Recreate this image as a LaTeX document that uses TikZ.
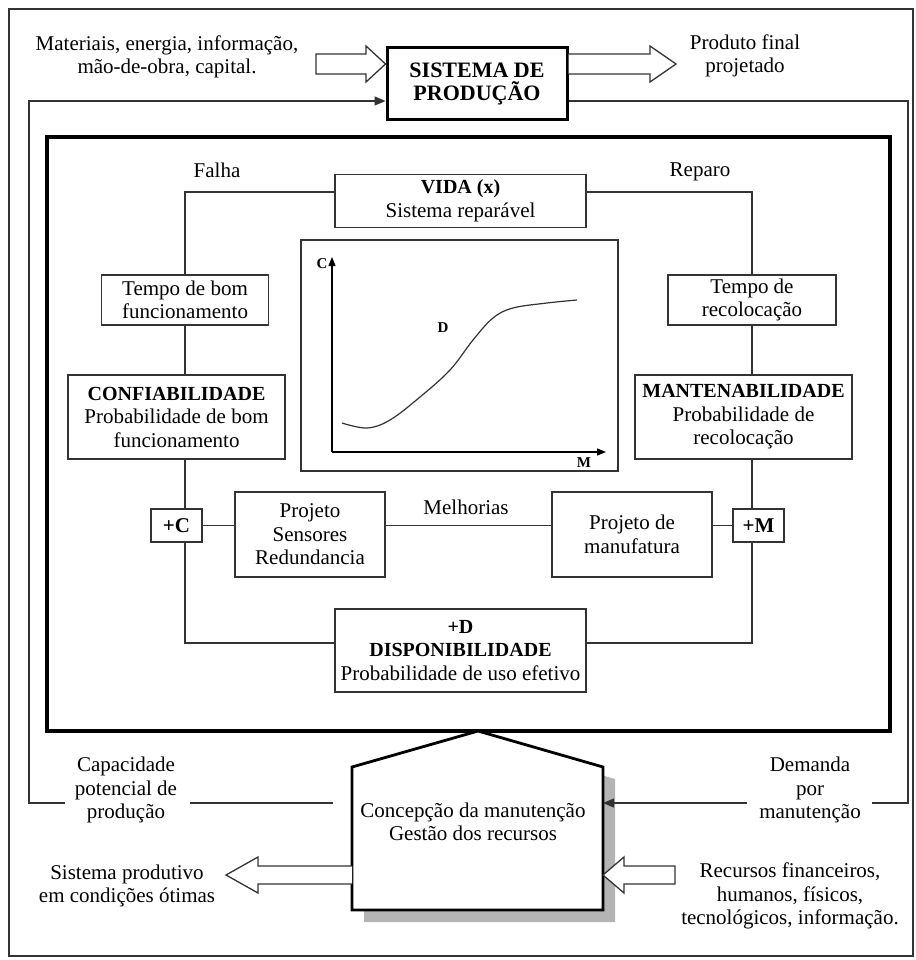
\documentclass[tikz,border=0pt]{standalone}
\usepackage{fontspec}
\setmainfont{Liberation Serif}
\usetikzlibrary{arrows.meta,calc}
\definecolor{ink}{HTML}{333333}
\definecolor{shadowgray}{HTML}{B4B4B4}
\begin{document}
\begin{tikzpicture}[x=1pt,y=-1pt,
  every node/.style={font=\fontsize{21}{23.5}\selectfont, align=center, inner sep=0pt},
  box/.style={draw=ink, line width=1.3pt, fill=white, inner sep=0pt},
  heavybox/.style={draw=black, line width=3pt, fill=white, inner sep=0pt},
  link/.style={draw=ink, line width=1.3pt},
  hollow/.style={draw=ink, line width=1.3pt, fill=white, line join=miter},
  feed/.style={draw=ink, line width=1.3pt, -{Triangle[length=11pt,width=9pt]}},
  small/.style={font=\fontsize{15}{16}\selectfont\bfseries}
]
\useasboundingbox (0,0) rectangle (915,960);
\newcommand\hdfont{\fontsize{20}{23.5}\selectfont\bfseries}

% outer frame
\draw[ink, line width=1.3pt] (9,9) rectangle (913,956);

% ---------- production system ----------
\node[heavybox, minimum width=180, minimum height=72] (sys) at (477,84)
  {\fontsize{22}{24}\selectfont\bfseries SISTEMA DE\\\fontsize{22}{24}\selectfont\bfseries PRODUÇÃO};
\node (mat) at (167,57) {Materiais, energia, informação,\\mão-de-obra, capital.};
\node (prod) at (745,56) {Produto final\\projetado};

% hollow input and output arrows
\draw[hollow] (316,54) -- (366,54) -- (366,46) -- (sys.west |- 0,64) -- (366,82) -- (366,74) -- (316,74) -- cycle;
\draw[hollow] (sys.east |- 0,54) -- (650,54) -- (650,46) -- (676,64) -- (650,82) -- (650,74) -- (sys.east |- 0,74);

% ---------- inner analysis frame ----------
\draw[black, line width=3.5pt] (47,137) rectangle (890,731);

% loop corners
\coordinate (tl) at (185,192);
\coordinate (tr) at (752,192);
\coordinate (bl) at (185,643);
\coordinate (br) at (752,643);

\node (fal) at (217,170) {Falha};
\node (rep) at (700,172) {Reparo};

\node[box, minimum width=251, minimum height=53] (vida) at (460.5,201)
  {{\hdfont VIDA (x)}\\Sistema reparável};

\node[box, minimum width=167, minimum height=50] (tb) at (185,300) {Tempo de bom\\funcionamento};
\node[box, minimum width=168, minimum height=50] (tr1) at (752,300) {Tempo de\\recolocação};

\node[box, minimum width=217, minimum height=84] (conf) at (176.5,417)
  {{\hdfont CONFIABILIDADE}\\Probabilidade de bom\\funcionamento};
\node[box, minimum width=217, minimum height=84] (mant) at (743.5,417)
  {{\hdfont MANTENABILIDADE}\\Probabilidade de\\recolocação};

% C-M curve
\node[box, minimum width=317, minimum height=231] (graph) at (459.5,355.5) {};
\coordinate (o) at (332,452);
\draw[black, line width=1.3pt, -{Triangle[length=9pt,width=7pt]}] (o) -- (332,257);
\draw[black, line width=1.3pt, -{Triangle[length=9pt,width=7pt]}] (o) -- (606,452);
\node[small] (lc) at (322,264) {C};
\node[small] (ld) at (443,328) {D};
\node[small] (lm) at (584,463) {M};
\draw[ink, line width=1.2pt] plot[smooth, tension=0.6] coordinates
  {(342,423) (367,428) (390,420) (420,397) (450,370) (473,340) (493,318) (513,308) (547,303) (577,300)};

% improvements row
\node[box, minimum width=51, minimum height=33] (pc) at (176.5,525.5) {\bfseries +C};
\node[box, minimum width=51, minimum height=33] (pm) at (758.5,525.5) {\bfseries +M};
\node[box, minimum width=150, minimum height=85] (ps) at (310,534.5) {Projeto\\Sensores\\Redundancia};
\node[box, minimum width=160, minimum height=85] (pf) at (632,534.5) {Projeto de\\manufatura};
\node (mel) at (466,507) {Melhorias};

\node[box, minimum width=251, minimum height=83] (disp) at (460.5,650.5)
  {{\hdfont +D}\\{\hdfont DISPONIBILIDADE}\\Probabilidade de uso efetivo};

% loop connectors
\draw[link] (vida.west |- tl) -- (tl) -- (tb.north);
\draw[link] (vida.east |- tr) -- (tr) -- (tr1.north);
\draw[link] (tb.south) -- (tb.south |- conf.north);
\draw[link] (tr1.south) -- (tr1.south |- mant.north);
\draw[link] (conf.south -| tl) -- (pc.north -| tl);
\draw[link] (mant.south -| tr) -- (pm.north -| tr);
\draw[link] (pc.south -| bl) -- (bl) -- (disp.west |- bl);
\draw[link] (pm.south -| br) -- (br) -- (disp.east |- br);
\draw[link] (pc.east) -- (ps.west |- pc.east);
\draw[link] (ps.east |- pc.east) -- (pf.west |- pc.east);
\draw[link] (pf.east |- pm.west) -- (pm.west);

% ---------- maintenance management ----------
\coordinate (peak) at (478,731);
\coordinate (hl) at (352,767);
\coordinate (hr) at (603,767);
\coordinate (hbl) at (352,910);
\coordinate (hbr) at (603,910);
\fill[shadowgray] ($(peak)+(12,12)$) -- ($(hr)+(12,12)$) -- ($(hbr)+(12,12)$) -- ($(hbl)+(12,12)$) -- ($(hl)+(12,12)$) -- cycle;
\draw[black, line width=2.8pt, fill=white, line join=miter] (peak) -- (hr) -- (hbr) -- (hbl) -- (hl) -- cycle;
\node (mgmt) at (473,822) {Concepção da manutenção\\Gestão dos recursos};

% feedback loops around the system
\node (cap) at (126,790) {Capacidade\\potencial de\\produção};
\node (dem) at (810,790) {Demanda\\por\\manutenção};
\coordinate (fbl) at (29,101);
\coordinate (fbr) at (908,101);
\coordinate (capend) at (333,803);
\draw[link] (capend) -- (190,803);
\draw[feed] (65,803) -| (fbl) -- (sys.west |- fbl);
\draw[link] (sys.east |- fbr) -- (fbr) |- (872,803);
\draw[feed] (747,803) -- (hr |- 0,803);

% resource flows
\node (sp) at (127,886) {Sistema produtivo\\em condições ótimas};
\node (rec) at (790,896) {Recursos financeiros,\\humanos, físicos,\\tecnológicos, informação.};
\draw[hollow] (hbl |- 0,866) -- (258,866) -- (258,857) -- (226,875) -- (258,893) -- (258,884) -- (hbl |- 0,884);
\draw[hollow] (675,866) -- (624,866) -- (624,857) -- (hr |- 0,875) -- (624,893) -- (624,884) -- (675,884) -- cycle;

\end{tikzpicture}
\end{document}
